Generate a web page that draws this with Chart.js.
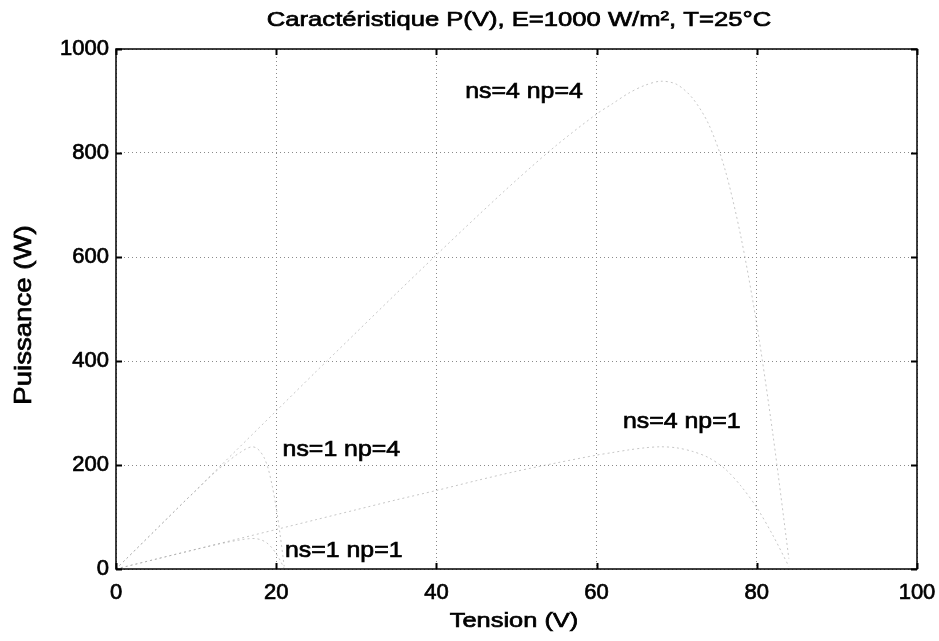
<!DOCTYPE html>
<html>
<head>
<meta charset="utf-8">
<script src="https://cdn.jsdelivr.net/npm/chart.js@4/dist/chart.umd.min.js"></script>
<style>
  html, body { margin: 0; padding: 0; background: #fff; }
  #wrap { width: 939px; height: 641px; position: relative; }
</style>
</head>
<body>
<div id="wrap"><canvas id="pv-chart" width="939" height="641"></canvas></div>
<script>
// Caractéristique P(V) – 4 configurations of the PV array

const titleText = 'Caractéristique P(V), E=1000 W/m², T=25°C';
const xTitle = 'Tension (V)';
const yTitle = 'Puissance (W)';

const xTicks = [0, 20, 40, 60, 80, 100];
const yTicks = [0, 200, 400, 600, 800, 1000];

// ns = 4 (series of 4 modules)
const voltNs4 = [0, 5, 10, 15, 20, 25, 30, 35, 40, 45, 50, 55, 60, 62, 64, 66, 68, 70, 72, 74, 76, 78, 80, 82, 84];
// ns = 1 (one module)
const voltNs1 = [0, 1.25, 2.5, 3.75, 5, 6.25, 7.5, 8.75, 10, 11.25, 12.5, 13.75, 15, 15.5, 16, 16.5, 17, 17.5, 18, 18.5, 19, 19.5, 20, 20.5, 21];

const powerNs4Np4 = [0, 76, 152, 228, 304, 380, 455, 530, 604, 677, 748, 815, 875, 895, 915, 930, 938, 932, 905, 855, 770, 640, 470, 260, 20];
const powerNs4Np1 = [0, 19, 38, 57, 76, 95, 114, 133, 151, 170, 188, 204, 219, 224, 229, 233, 235, 233, 226, 214, 193, 160, 118, 65, 5];
const powerNs1Np4 = [0, 19, 38, 57, 76, 95, 114, 133, 151, 170, 188, 204, 219, 224, 229, 233, 235, 233, 226, 214, 193, 160, 118, 65, 5];
const powerNs1Np1 = [0, 4.8, 9.5, 14.3, 19, 23.8, 28.4, 33.1, 37.8, 42.3, 46.8, 51, 54.7, 55.9, 57.2, 58.1, 58.6, 58.3, 56.6, 53.4, 48.1, 40, 29.4, 16.3, 1.3];

// curve labels: text, anchor voltage, anchor power (left edge, vertical middle)
const curveLabels = ['ns=4 np=4', 'ns=4 np=1', 'ns=1 np=4', 'ns=1 np=1'];
const labelVolt = [43.6, 63.3, 20.8, 21.1];
const labelPower = [917, 283, 229, 35];

function toPoints(xs, ys) {
  return xs.map((x, i) => ({ x: x, y: ys[i] }));
}

const FONT = "'Liberation Sans', Arial, sans-serif";
const curveColor = 'rgba(160,160,160,0.6)';

// the scan is a bit wider than tall, so text is drawn slightly stretched
// and given a thin outline to look like the thick scanned glyphs
function stretchedText(ctx, text, x, y, size, sx, align) {
  ctx.save();
  ctx.font = size + 'px ' + FONT;
  ctx.textBaseline = 'middle';
  ctx.textAlign = 'left';
  const w = ctx.measureText(text).width * sx;
  let x0 = x;
  if (align === 'center') x0 = x - w / 2;
  ctx.translate(x0, y);
  ctx.scale(sx, 1);
  ctx.lineWidth = 0.7;
  ctx.strokeStyle = '#000';
  ctx.strokeText(text, 0, 0);
  ctx.fillText(text, 0, 0);
  ctx.restore();
}

// MATLAB-like frame: inward ticks on all four sides, title, axis titles, curve labels
const matlabDecor = {
  id: 'matlabDecor',
  afterDraw(chart) {
    const ctx = chart.ctx;
    const a = chart.chartArea;
    const xs = chart.scales.x;
    const ys = chart.scales.y;
    ctx.save();

    ctx.strokeStyle = '#000';
    ctx.lineWidth = 1.5;
    ctx.strokeRect(a.left, a.top, a.right - a.left, a.bottom - a.top);

    const tl = 6;
    ctx.beginPath();
    xTicks.forEach(v => {
      const px = Math.round(xs.getPixelForValue(v)) + 0.5;
      ctx.moveTo(px, a.bottom); ctx.lineTo(px, a.bottom - tl);
      ctx.moveTo(px, a.top); ctx.lineTo(px, a.top + tl);
    });
    yTicks.forEach(v => {
      const py = Math.round(ys.getPixelForValue(v)) + 0.5;
      ctx.moveTo(a.left, py); ctx.lineTo(a.left + tl, py);
      ctx.moveTo(a.right, py); ctx.lineTo(a.right - tl, py);
    });
    ctx.lineWidth = 2;
    ctx.stroke();

    ctx.fillStyle = '#000';
    stretchedText(ctx, titleText, 519, 20, 21, 1.22, 'center');
    stretchedText(ctx, xTitle, 514, 621, 21, 1.21, 'center');

    ctx.save();
    ctx.translate(24, 315);
    ctx.rotate(-Math.PI / 2);
    stretchedText(ctx, yTitle, 0, 0, 24, 1.15, 'center');
    ctx.restore();

    curveLabels.forEach((t, i) => {
      stretchedText(ctx, t, xs.getPixelForValue(labelVolt[i]), ys.getPixelForValue(labelPower[i]), 22, 1.13, 'left');
    });
    ctx.restore();
  }
};

const seriesDefs = [
  { label: 'ns=4 np=4', data: toPoints(voltNs4, powerNs4Np4) },
  { label: 'ns=4 np=1', data: toPoints(voltNs4, powerNs4Np1) },
  { label: 'ns=1 np=4', data: toPoints(voltNs1, powerNs1Np4) },
  { label: 'ns=1 np=1', data: toPoints(voltNs1, powerNs1Np1) }
];

const tickStyle = {
  color: '#000',
  font: { family: FONT, size: 22 },
  textStrokeColor: '#000',
  textStrokeWidth: 0.7,
  callback: v => String(v)
};

new Chart(document.getElementById('pv-chart').getContext('2d'), {
  type: 'line',
  data: {
    datasets: seriesDefs.map(s => ({
      label: s.label,
      data: s.data,
      borderColor: curveColor,
      borderWidth: 1,
      borderDash: [2, 3],
      pointRadius: 0,
      tension: 0.3,
      fill: false
    }))
  },
  options: {
    responsive: false,
    animation: false,
    layout: { padding: { top: 49, right: 22, left: 0, bottom: 0 } },
    scales: {
      x: {
        type: 'linear',
        min: 0,
        max: 100,
        // the last label may run past the canvas edge, as in the scan
        afterFit(scale) { scale.height = 72; scale.paddingRight = 0; scale.paddingLeft = 0; },
        afterBuildTicks(scale) { scale.ticks = xTicks.map(v => ({ value: v })); },
        grid: {
          color: '#8a8a8a',
          lineWidth: 1,
          drawTicks: false
        },
        border: { display: false, dash: [1, 3] },
        ticks: Object.assign({ padding: 11 }, tickStyle)
      },
      y: {
        type: 'linear',
        min: 0,
        max: 1000,
        afterFit(scale) { scale.width = 116; scale.paddingTop = 0; scale.paddingBottom = 0; },
        afterBuildTicks(scale) { scale.ticks = yTicks.map(v => ({ value: v })); },
        grid: {
          color: '#8a8a8a',
          lineWidth: 1,
          drawTicks: false
        },
        border: { display: false, dash: [1, 3] },
        ticks: Object.assign({ padding: 7 }, tickStyle)
      }
    },
    plugins: {
      legend: { display: false },
      title: { display: false },
      tooltip: { enabled: false }
    }
  },
  plugins: [matlabDecor]
});
</script>
</body>
</html>
